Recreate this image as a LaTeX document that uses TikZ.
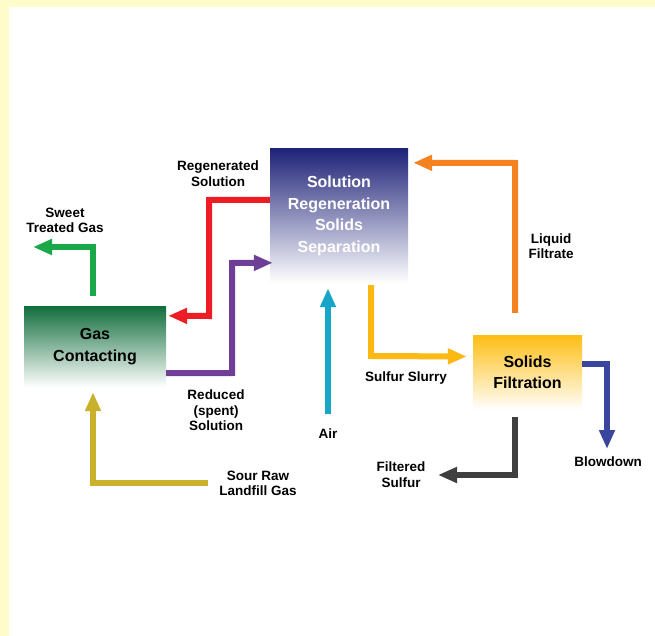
\documentclass[tikz,border=0pt]{standalone}
\usepackage{fontspec}
\setmainfont{Liberation Sans}
\usetikzlibrary{arrows.meta}
\definecolor{pagebg}{RGB}{255,252,204}
\definecolor{regentop}{RGB}{31,35,120}
\definecolor{gastop}{RGB}{17,109,60}
\definecolor{filttop}{RGB}{253,190,20}
\definecolor{redflow}{RGB}{238,28,37}
\definecolor{purpleflow}{RGB}{111,63,152}
\definecolor{greenflow}{RGB}{27,168,74}
\definecolor{oliveflow}{RGB}{201,177,43}
\definecolor{airflow}{RGB}{23,166,200}
\definecolor{slurryflow}{RGB}{253,185,19}
\definecolor{orangeflow}{RGB}{245,130,32}
\definecolor{blowflow}{RGB}{58,70,157}
\definecolor{grayflow}{RGB}{63,63,63}
\begin{document}
\begin{tikzpicture}[x=1pt,y=-1pt,
    unit/.style={inner sep=0pt,align=center,font=\bfseries\fontsize{16}{21.5}\selectfont},
    lbl/.style={align=center,inner sep=0pt,font=\bfseries\fontsize{13.5}{15.5}\selectfont},
    flow/.style={line width=6pt,-{Triangle[length=19pt,width=15pt]}}]
    % background
    \fill[pagebg] (0,0) rectangle (655,636);
    \fill[white] (9,7) rectangle (655,636);
    % process units
    \node[unit,minimum width=138pt,minimum height=134pt,top color=regentop,bottom color=white,text=white]
        (regen) at (339,216) {Solution\\Regeneration\\Solids\\Separation};
    \node[unit,minimum width=142pt,minimum height=81pt,top color=gastop,bottom color=white]
        (gas) at (95,346.5) {Gas\\Contacting};
    \node[unit,minimum width=109pt,minimum height=75pt,top color=filttop,bottom color=white]
        (filt) at (527.5,372.5) {Solids\\Filtration};
    % free ends
    \coordinate (sweet) at (33,247);
    \coordinate (sour) at (208,483);
    \coordinate (air) at (328,414);
    \coordinate (blow) at (607,449);
    \coordinate (sulfur) at (438,475);
    % streams
    \draw[flow,greenflow] ([xshift=-2pt,yshift=10pt]gas.north) -- (93,247) -- (sweet);
    \draw[flow,redflow] ([yshift=-51pt]regen.north west) -- (209,200) -- (209,316) -- ([xshift=2pt,yshift=-10pt]gas.north east);
    \draw[flow,purpleflow] ([yshift=14pt]gas.south east) -- (232,373) -- (232,263) -- ([xshift=3pt,yshift=-114pt]regen.north west);
    \draw[flow,oliveflow] (sour) -- (93,483) -- ([xshift=-2pt,yshift=-5pt]gas.south);
    \draw[flow,airflow] (air) -- ([xshift=-11pt,yshift=-5pt]regen.south);
    \draw[flow,slurryflow] ([xshift=32pt,yshift=-2pt]regen.south) -- (371,356) -- ([xshift=-6pt,yshift=16pt]filt.west);
    \draw[flow,orangeflow] ([xshift=-12.5pt,yshift=22pt]filt.north) -- (515,163) -- ([xshift=5pt,yshift=-14pt]regen.north east);
    \draw[flow,blowflow] ([yshift=8.5pt]filt.east) -- (607,364) -- (blow);
    \draw[flow,grayflow] ([xshift=-12.5pt,yshift=-7pt]filt.south) -- (515,475) -- (sulfur);
    % stream labels
    \node[lbl] (lregen) at (218,173.5) {Regenerated\\Solution};
    \node[lbl] (lsweet) at (65,220.5) {Sweet\\Treated Gas};
    \node[lbl] (lreduced) at (216,410.5) {Reduced\\(spent)\\Solution};
    \node[lbl] (lair) at (328,434) {Air};
    \node[lbl] (lslurry) at (406,378) {Sulfur Slurry};
    \node[lbl] (lliquid) at (551,246) {Liquid\\Filtrate};
    \node[lbl] (lfiltered) at (401,474.5) {Filtered\\Sulfur};
    \node[lbl] (lblow) at (608,462) {Blowdown};
    \node[lbl] (lsour) at (258,483.5) {Sour Raw\\Landfill Gas};
\end{tikzpicture}
\end{document}
